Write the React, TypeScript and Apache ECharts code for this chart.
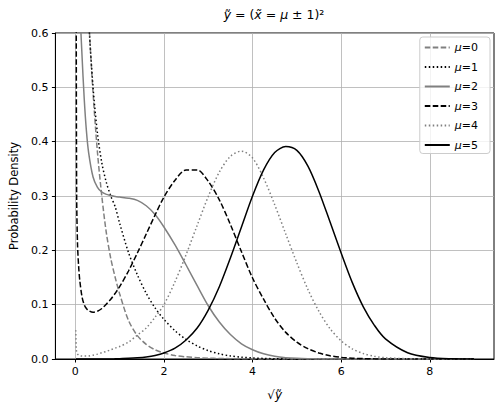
import React, { useEffect, useRef } from 'react';
import * as echarts from 'echarts';

// sqrt(y) sample positions
const xs = [0.01, 0.02, 0.03, 0.05, 0.075, 0.1, 0.15, 0.2, 0.25, 0.3, 0.4, 0.5, 0.6, 0.7, 0.8, 0.9, 1.0,
  1.2, 1.4, 1.6, 1.8, 2.0, 2.25, 2.5, 2.75, 3.0, 3.25, 3.5, 3.75, 4.0, 4.25, 4.5, 4.75, 5.0,
  5.25, 5.5, 5.75, 6.0, 6.25, 6.5, 6.75, 7.0, 7.5, 8.0, 8.5, 9.0];

const mu0 = [3.5, 2.8, 2.3, 1.8, 1.45, 1.2, 0.98, 0.84, 0.73, 0.63, 0.49, 0.38, 0.298, 0.232, 0.185, 0.15, 0.12,
  0.071, 0.043, 0.027, 0.017, 0.011, 0.0065, 0.004, 0.0025, 0.0015, 0.001, 0.0006, 0.0003, 0.0002, 0, 0, 0, 0,
  0, 0, 0, 0, 0, 0, 0, 0, 0, 0, 0, 0];

const mu1 = [6, 4, 3, 2, 1.5, 1.25, 1.0, 0.85, 0.72, 0.625, 0.5, 0.415, 0.36, 0.325, 0.3, 0.28, 0.25,
  0.196, 0.155, 0.121, 0.094, 0.073, 0.052, 0.036, 0.024, 0.0155, 0.0095, 0.0057, 0.0033, 0.0019, 0.001, 0.0005, 0.0002, 0.0001,
  0, 0, 0, 0, 0, 0, 0, 0, 0, 0, 0, 0];

const mu2 = [1.4, 1.1, 0.95, 0.82, 0.72, 0.65, 0.56, 0.48, 0.42, 0.38, 0.335, 0.316, 0.307, 0.303, 0.301, 0.299, 0.298,
  0.296, 0.292, 0.282, 0.266, 0.243, 0.21, 0.173, 0.135, 0.098, 0.068, 0.045, 0.028, 0.017, 0.0095, 0.005, 0.0025, 0.0012,
  0.0005, 0.0002, 0, 0, 0, 0, 0, 0, 0, 0, 0, 0];

const mu3 = [2.0, 0.7, 0.3, 0.21, 0.17, 0.145, 0.115, 0.1, 0.093, 0.089, 0.086, 0.088, 0.093, 0.101, 0.11, 0.121, 0.133,
  0.162, 0.195, 0.23, 0.265, 0.298, 0.329, 0.348, 0.348, 0.327, 0.293, 0.2475, 0.1975, 0.149, 0.11, 0.075, 0.049, 0.031,
  0.019, 0.011, 0.006, 0.003, 0.0015, 0.0007, 0.0003, 0.0001, 0, 0, 0, 0];

const mu4 = [0.053, 0.02, 0.013, 0.009, 0.007, 0.006, 0.0055, 0.0053, 0.0053, 0.0055, 0.007, 0.009, 0.0115, 0.014, 0.017, 0.02, 0.023,
  0.031, 0.044, 0.057, 0.077, 0.1, 0.1423, 0.192, 0.246, 0.299, 0.344, 0.373, 0.3826, 0.37, 0.333, 0.284, 0.23, 0.177,
  0.128, 0.0874, 0.0557, 0.0334, 0.0188, 0.01, 0.005, 0.0023, 0.0005, 0.0001, 0, 0];

const mu5 = [0, 0, 0, 0, 0, 0, 0, 0, 0, 0, 0, 0, 0, 0, 0, 0.0003, 0.0006,
  0.0012, 0.0022, 0.0038, 0.0065, 0.011, 0.02, 0.035, 0.057, 0.09, 0.133, 0.186, 0.243, 0.3, 0.348, 0.38, 0.391, 0.384,
  0.355, 0.308, 0.252, 0.195, 0.141, 0.096, 0.062, 0.037, 0.0115, 0.0028, 0.0005, 0.0001];

const seriesNames = ['μ=0', 'μ=1', 'μ=2', 'μ=3', 'μ=4', 'μ=5'];
const xTicks = [0, 2, 4, 6, 8];
const yTicks = [0, 0.1, 0.2, 0.3, 0.4, 0.5, 0.6];

const FONT = 'DejaVu Sans';

export default function App() {
  const ref = useRef<HTMLDivElement>(null);
  useEffect(() => {
    const chart = echarts.init(ref.current!, null, { renderer: 'svg' });
    const dashed = [5.55, 2.4];
    const dotted = [1.5, 2.475];
    const styles: any[] = [
      { color: '#808080', type: dashed },
      { color: '#000000', type: dotted },
      { color: '#808080', type: 'solid' },
      { color: '#000000', type: dashed },
      { color: '#808080', type: dotted },
      { color: '#000000', type: 'solid' },
    ];
    const all = [mu0, mu1, mu2, mu3, mu4, mu5];
    chart.setOption({
      animation: false,
      grid: { left: 54, right: 9, top: 33, bottom: 56, show: true, borderColor: '#000', borderWidth: 1, backgroundColor: 'transparent' },
      graphic: [
        {
          type: 'text',
          x: 274,
          y: 14,
          style: {
            text: '{i|ỹ} = ({i|x̃} = {i|μ} ± 1)²',
            align: 'center',
            verticalAlign: 'middle',
            fontSize: 12.5,
            fontFamily: FONT,
            fill: '#000',
            rich: { i: { fontStyle: 'italic', fontSize: 12.5, fontFamily: FONT } },
          },
        },
      ],
      legend: {
        orient: 'vertical',
        right: 13,
        top: 37,
        itemWidth: 25,
        itemHeight: 13,
        itemGap: 8.5,
        padding: [5, 12, 3, 4],
        borderColor: '#cccccc',
        borderWidth: 1,
        borderRadius: 3,
        backgroundColor: 'rgba(255,255,255,0.8)',
        data: seriesNames,
        itemStyle: { opacity: 0, borderWidth: 0 },
        formatter: (name: string) => `{i|μ}${name.slice(1)}`,
        textStyle: {
          fontSize: 11,
          fontFamily: FONT,
          color: '#000',
          rich: { i: { fontStyle: 'italic', fontSize: 11, fontFamily: FONT, color: '#000' } },
        },
      },
      xAxis: {
        type: 'value',
        min: -0.45,
        max: 9.45,
        name: '{s|√}{i|ỹ}',
        nameLocation: 'middle',
        nameGap: 30,
        nameTextStyle: {
          fontSize: 12,
          fontFamily: FONT,
          color: '#000',
          rich: {
            s: { fontSize: 12, fontFamily: FONT, color: '#000' },
            i: { fontSize: 12, fontStyle: 'italic', fontFamily: FONT, color: '#000' },
          },
        },
        axisLine: { show: true, onZero: false, lineStyle: { color: '#000', width: 1 } },
        axisTick: { show: true, length: 3.5, customValues: xTicks, lineStyle: { color: '#000' } },
        axisLabel: {
          customValues: xTicks,
          formatter: (v: number) => String(v),
          fontSize: 11,
          fontFamily: FONT,
          color: '#000',
          margin: 7,
        },
        splitLine: { show: true, lineStyle: { color: '#b0b0b0', width: 0.8 } },
      },
      yAxis: {
        type: 'value',
        min: 0,
        max: 0.6,
        interval: 0.1,
        name: 'Probability Density',
        nameLocation: 'middle',
        nameGap: 32,
        nameTextStyle: { fontSize: 11.5, fontFamily: FONT, color: '#000' },
        axisLine: { show: true, onZero: false, lineStyle: { color: '#000', width: 1 } },
        axisTick: { show: true, length: 3.5, lineStyle: { color: '#000' } },
        axisLabel: {
          formatter: (v: number) => v.toFixed(1),
          fontSize: 11,
          fontFamily: FONT,
          color: '#000',
          margin: 7,
          customValues: yTicks,
        },
        splitLine: { show: true, lineStyle: { color: '#b0b0b0', width: 0.8 } },
      },
      series: all.map((vals, k) => ({
        name: seriesNames[k],
        type: 'line',
        symbol: 'none',
        showSymbol: false,
        smooth: 0.3,
        clip: true,
        data: xs.map((x, i) => [x, vals[i]]),
        lineStyle: { width: 1.5, color: styles[k].color, type: styles[k].type, cap: 'butt' },
        itemStyle: { color: styles[k].color },
        emphasis: { disabled: true },
      })),
    });
    return () => chart.dispose();
  }, []);
  return <div ref={ref} style={{ position: 'absolute', left: 0, top: 0, width: 503, height: 415 }} />;
}
